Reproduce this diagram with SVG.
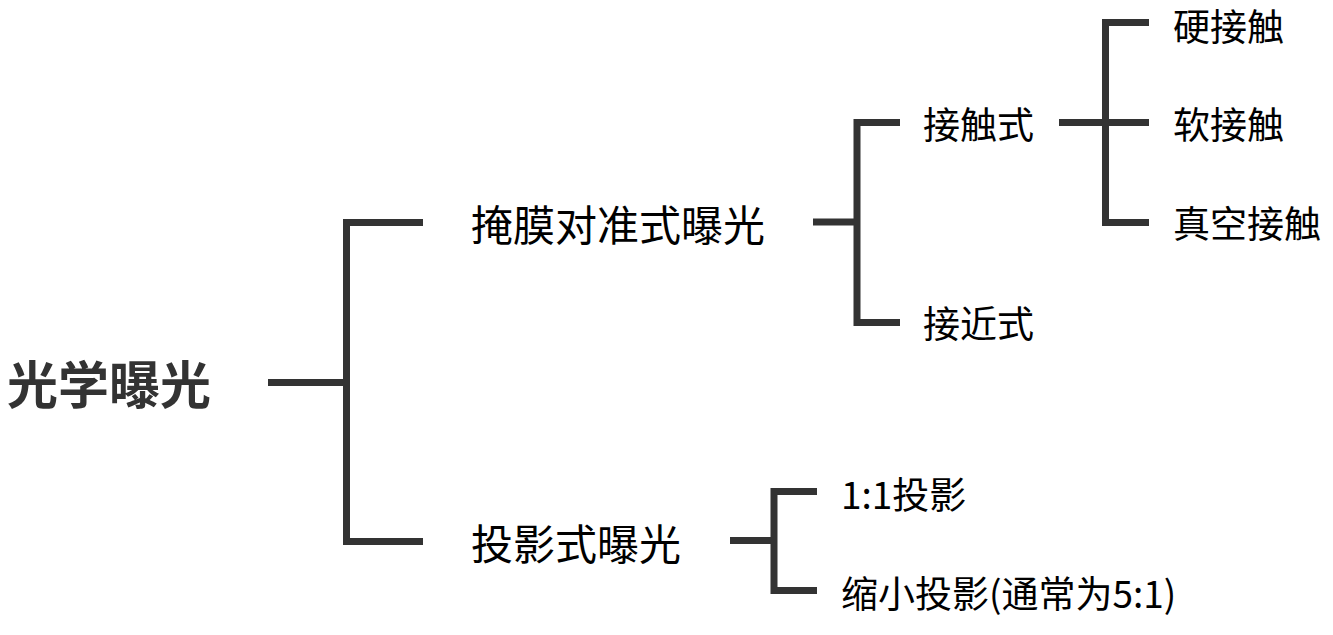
<svg xmlns="http://www.w3.org/2000/svg" width="1333" height="635" viewBox="0 0 1333 635">
<style>
.ln{fill:none;stroke:#333333;stroke-width:7;stroke-linecap:butt;stroke-linejoin:miter}
text{font-family:"Microsoft YaHei","Noto Sans CJK SC","Noto Sans",sans-serif;dominant-baseline:central;fill:#000}
.root{font-size:51px;font-weight:bold;fill:#333333}
.l1{font-size:42px}
.l2{font-size:37px}
</style>
<rect width="1333" height="635" fill="#ffffff"/>
<g id="connectors">
<path class="ln" d="M268,382.5H346.5M423,222.5H346.5V541.5H423"/>
<path class="ln" d="M813,222H857M900,122.5H857V322.5H900"/>
<path class="ln" d="M1059,122.5H1149M1149,22.5H1105.5V222.5H1149"/>
<path class="ln" d="M730,540.5H774M817,491.5H774V590.5H817"/>
</g>
<g id="n-root"><text class="root" x="7" y="382">光学曝光</text></g>
<g id="n-mask"><text class="l1" x="471" y="222">掩膜对准式曝光</text></g>
<g id="n-proj"><text class="l1" x="471" y="541">投影式曝光</text></g>
<g id="n-contact"><text class="l2" x="923" y="123">接触式</text></g>
<g id="n-proximity"><text class="l2" x="923" y="322">接近式</text></g>
<g id="n-hard"><text class="l2" x="1173" y="25">硬接触</text></g>
<g id="n-soft"><text class="l2" x="1173" y="123">软接触</text></g>
<g id="n-vacuum"><text class="l2" x="1173" y="222">真空接触</text></g>
<g id="n-11"><text class="l2" x="841" y="493">1:1投影</text></g>
<g id="n-reduce"><text class="l2" x="841" y="592">缩小投影(通常为5:1)</text></g>
</svg>
